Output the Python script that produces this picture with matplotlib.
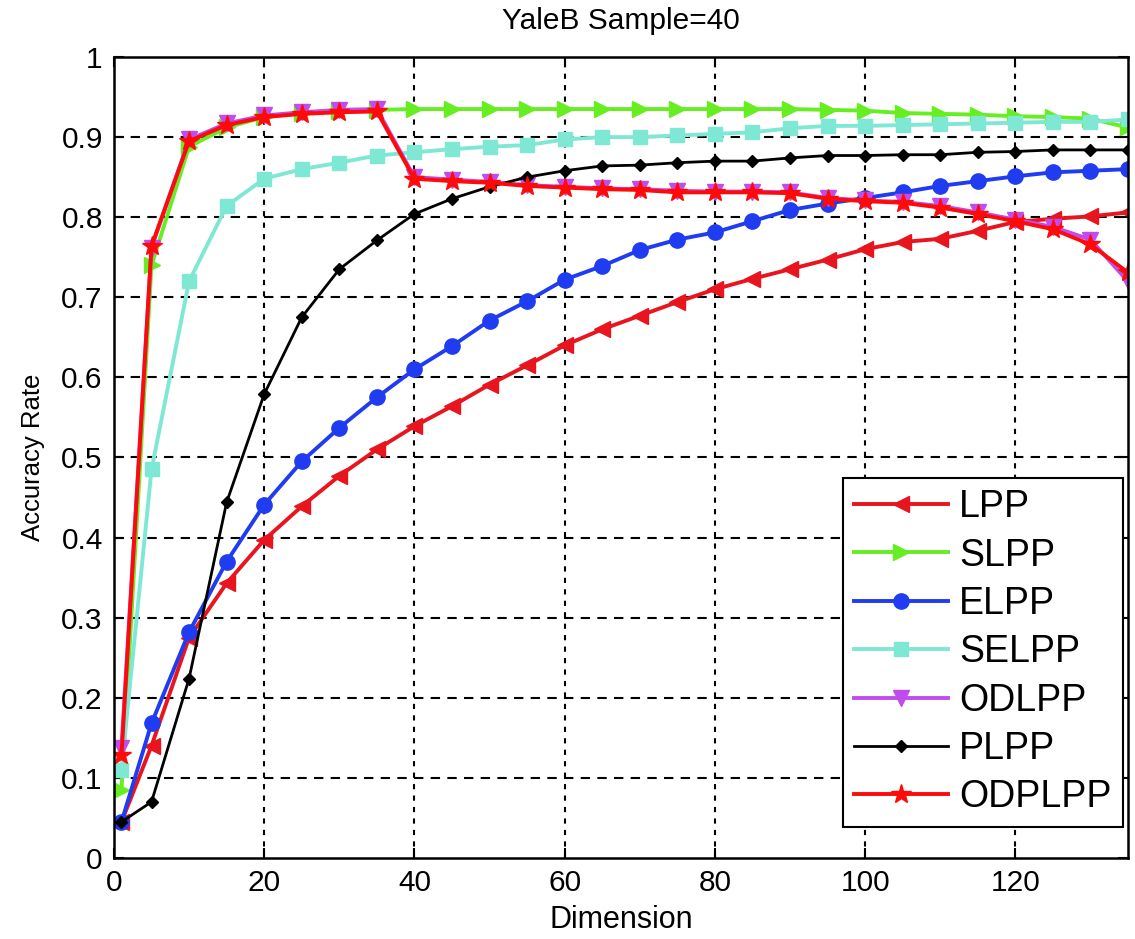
import matplotlib
matplotlib.use("Agg")
import matplotlib.pyplot as plt

# Reduced dimensions evaluated on YaleB (40 training samples per subject)
dims = [1] + list(range(5, 136, 5))

lpp = [0.045, 0.14, 0.275, 0.343, 0.397, 0.439, 0.477, 0.51, 0.539, 0.564,
       0.591, 0.615, 0.64, 0.66, 0.677, 0.694, 0.71, 0.723, 0.735, 0.747,
       0.76, 0.769, 0.773, 0.783, 0.794, 0.798, 0.801, 0.806]
slpp = [0.085, 0.74, 0.888, 0.912, 0.925, 0.93, 0.933, 0.934, 0.935, 0.935,
        0.935, 0.935, 0.935, 0.935, 0.935, 0.935, 0.935, 0.935, 0.935, 0.934,
        0.933, 0.93, 0.929, 0.928, 0.926, 0.925, 0.923, 0.912]
elpp = [0.045, 0.168, 0.282, 0.37, 0.441, 0.495, 0.537, 0.575, 0.61, 0.639,
        0.671, 0.695, 0.722, 0.739, 0.759, 0.772, 0.781, 0.795, 0.809, 0.817,
        0.824, 0.831, 0.839, 0.845, 0.851, 0.856, 0.858, 0.86]
selpp = [0.11, 0.485, 0.72, 0.814, 0.848, 0.86, 0.868, 0.877, 0.881, 0.885,
         0.888, 0.89, 0.897, 0.9, 0.9, 0.902, 0.904, 0.906, 0.911, 0.914,
         0.914, 0.915, 0.916, 0.917, 0.918, 0.919, 0.919, 0.922]
odlpp = [0.137, 0.762, 0.897, 0.917, 0.927, 0.931, 0.934, 0.935, 0.85, 0.847,
         0.844, 0.84, 0.838, 0.836, 0.835, 0.833, 0.832, 0.832, 0.831, 0.824,
         0.821, 0.819, 0.814, 0.806, 0.797, 0.788, 0.772, 0.72]
plpp = [0.045, 0.07, 0.224, 0.444, 0.579, 0.675, 0.735, 0.771, 0.804, 0.823,
        0.838, 0.85, 0.858, 0.864, 0.865, 0.868, 0.87, 0.87, 0.874, 0.877,
        0.877, 0.878, 0.878, 0.881, 0.882, 0.884, 0.884, 0.884]
odplpp = [0.128, 0.764, 0.895, 0.915, 0.925, 0.929, 0.931, 0.932, 0.848, 0.845,
          0.843, 0.839, 0.837, 0.835, 0.834, 0.831, 0.831, 0.831, 0.83, 0.823,
          0.82, 0.818, 0.812, 0.804, 0.795, 0.785, 0.766, 0.731]

method_names = ["LPP", "SLPP", "ELPP", "SELPP", "ODLPP", "PLPP", "ODPLPP"]
xticks = [0, 20, 40, 60, 80, 100, 120]
yticks = [0, 0.1, 0.2, 0.3, 0.4, 0.5, 0.6, 0.7, 0.8, 0.9, 1]
ytick_labels = ["0", "0.1", "0.2", "0.3", "0.4", "0.5", "0.6", "0.7", "0.8", "0.9", "1"]

plt.rcParams["font.family"] = ["Liberation Sans", "DejaVu Sans"]

fig = plt.figure(figsize=(11.35, 9.39), dpi=100)
ax = fig.add_axes([0.1004, 0.0863, 0.8934, 0.853])

styles = [
    dict(color="#e8141e", marker="<", ms=12, lw=2.8),
    dict(color="#66ee22", marker=">", ms=12, lw=2.8),
    dict(color="#1f3cf0", marker="o", ms=11, lw=2.8),
    dict(color="#7fe8d4", marker="s", ms=10.5, lw=2.8),
    dict(color="#c04cf0", marker="v", ms=12, lw=2.8),
    dict(color="#000000", marker="D", ms=6.5, lw=2.0),
    dict(color="#ff0a0a", marker="*", ms=15, lw=2.8),
]
series = [lpp, slpp, elpp, selpp, odlpp, plpp, odplpp]

for name, vals, st in zip(method_names, series, styles):
    ax.plot(dims, vals, label=name, color=st["color"], marker=st["marker"],
            markersize=st["ms"], linewidth=st["lw"],
            markerfacecolor=st["color"], markeredgecolor=st["color"])

ax.set_xlim(0, 135)
ax.set_ylim(0, 1)
ax.set_xticks(xticks)
ax.set_yticks(yticks)
ax.set_yticklabels(ytick_labels)

# MATLAB-like dotted grid
for x in xticks[1:]:
    ax.axvline(x, color="black", lw=1.5, ls=(0, (2.5, 3)), zorder=0.5)
for y in yticks[1:-1]:
    ax.axhline(y, color="black", lw=1.5, ls=(0, (4.5, 3.5)), zorder=0.5)

ax.tick_params(axis="both", direction="in", length=7, width=1.5,
               top=True, right=True, labelsize=21.5, pad=8)
for sp in ax.spines.values():
    sp.set_linewidth(1.8)

ax.set_title("YaleB Sample=40", fontsize=21.5, pad=20)
ax.set_xlabel("Dimension", fontsize=22, labelpad=6)
ax.set_ylabel("Accuracy Rate", fontsize=18.5, labelpad=12)

leg = ax.legend(loc="lower right", bbox_to_anchor=(0.995, 0.039),
                fontsize=27, numpoints=1, handlelength=2.5,
                handletextpad=0.3, labelspacing=0.33, borderpad=0.3,
                borderaxespad=0, fancybox=False, framealpha=1)
leg.get_frame().set_edgecolor("black")
leg.get_frame().set_linewidth(1.5)

fig.savefig("out.png", dpi=100)
